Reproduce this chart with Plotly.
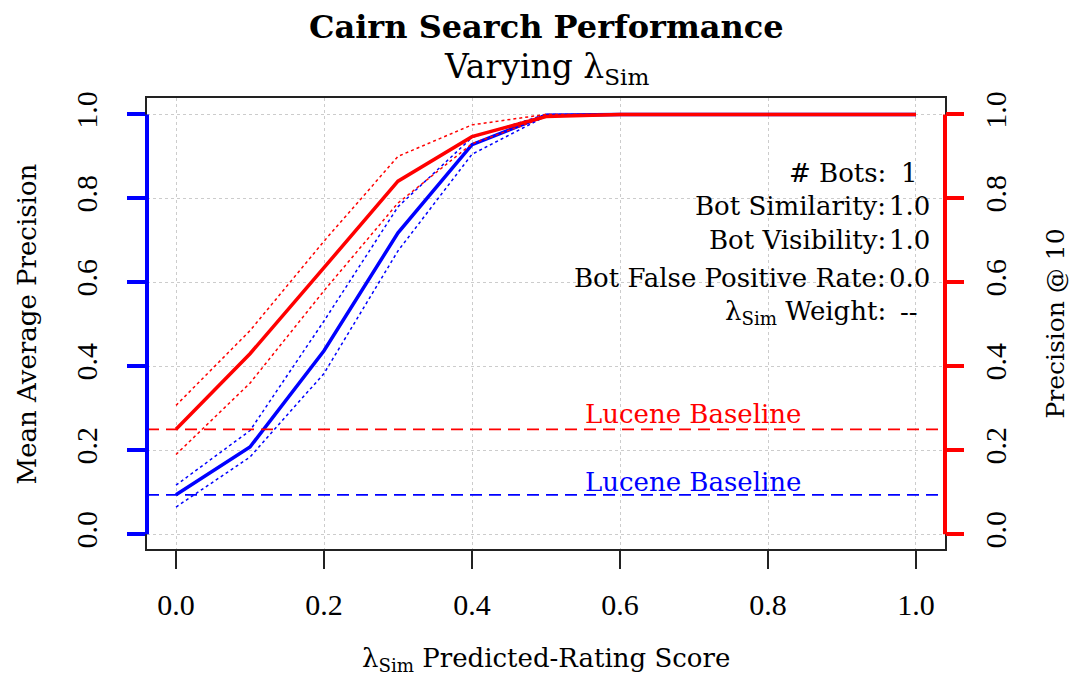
import plotly.graph_objects as go

# lambda_Sim weights on the x axis
LAMBDA_SIM = [0.0, 0.1, 0.2, 0.3, 0.4, 0.5, 0.6, 0.7, 0.8, 0.9, 1.0]

# Mean average precision (blue, left axis) with its dotted band
MAP_MEAN = [0.094, 0.208, 0.437, 0.718, 0.928, 0.998, 1.0, 1.0, 1.0, 1.0, 1.0]
MAP_UPPER = [0.117, 0.247, 0.508, 0.780, 0.945, 1.0, 1.0, 1.0, 1.0, 1.0, 1.0]
MAP_LOWER = [0.065, 0.184, 0.383, 0.675, 0.905, 0.996, 1.0, 1.0, 1.0, 1.0, 1.0]

# Precision @ 10 (red, right axis) with its dotted band
P10_MEAN = [0.250, 0.430, 0.635, 0.841, 0.947, 0.995, 1.0, 1.0, 1.0, 1.0, 1.0]
P10_UPPER = [0.307, 0.485, 0.698, 0.900, 0.975, 1.0, 1.0, 1.0, 1.0, 1.0, 1.0]
P10_LOWER = [0.190, 0.360, 0.580, 0.789, 0.930, 0.994, 1.0, 1.0, 1.0, 1.0, 1.0]

# Lucene baselines
MAP_BASELINE = 0.094
P10_BASELINE = 0.250

TICKS = [0.0, 0.2, 0.4, 0.6, 0.8, 1.0]
TICK_TEXT = ["0.0", "0.2", "0.4", "0.6", "0.8", "1.0"]

INFO_LABELS = ["# Bots:", "Bot Similarity:", "Bot Visibility:",
               "Bot False Positive Rate:", "λ<sub>Sim</sub> Weight:"]
INFO_VALUES = ["1", "1.0", "1.0", "0.0", "--"]
INFO_ROWS = [0.860, 0.782, 0.701, 0.610, 0.529]

BLUE = "#0000ff"
RED = "#ff0000"
TEXT_FONT = "DejaVu Serif"
TICK_FONT = "Liberation Serif"
XRANGE = [-0.0392, 1.0392]
YRANGE = [-0.035, 1.039]

fig = go.Figure()

band = dict(width=1.5, dash="3px,3px")
for ys in (MAP_UPPER, MAP_LOWER):
    fig.add_trace(go.Scatter(x=LAMBDA_SIM, y=ys, mode="lines",
                             line=dict(color=BLUE, **band), showlegend=False))
for ys in (P10_UPPER, P10_LOWER):
    fig.add_trace(go.Scatter(x=LAMBDA_SIM, y=ys, mode="lines", yaxis="y2",
                             line=dict(color=RED, **band), showlegend=False))
fig.add_trace(go.Scatter(x=LAMBDA_SIM, y=MAP_MEAN, mode="lines",
                         line=dict(color=BLUE, width=3.5), showlegend=False))
fig.add_trace(go.Scatter(x=LAMBDA_SIM, y=P10_MEAN, mode="lines", yaxis="y2",
                         line=dict(color=RED, width=3.5), showlegend=False))

# baselines across the whole box
fig.add_shape(type="line", xref="paper", yref="y", x0=0, x1=1,
              y0=MAP_BASELINE, y1=MAP_BASELINE,
              line=dict(color=BLUE, width=1.8, dash="12px,7px"))
fig.add_shape(type="line", xref="paper", yref="y2", x0=0, x1=1,
              y0=P10_BASELINE, y1=P10_BASELINE,
              line=dict(color=RED, width=1.8, dash="12px,7px"))

# coloured axis lines, only over 0..1
fig.add_shape(type="line", xref="paper", yref="y", x0=0, x1=0,
              y0=TICKS[0], y1=TICKS[-1], line=dict(color=BLUE, width=4))
fig.add_shape(type="line", xref="paper", yref="y2", x0=1, x1=1,
              y0=TICKS[0], y1=TICKS[-1], line=dict(color=RED, width=4))

tickfont = dict(family=TICK_FONT, size=30, color="black")
# the page body has an 8px margin on every side; keep the figure inside it
# so no scrollbars appear
fig.update_layout(
    width=1067, height=669,
    margin=dict(l=139, r=130, t=90, b=128),
    plot_bgcolor="white", paper_bgcolor="white",
    showlegend=False,
    xaxis=dict(range=XRANGE, tickvals=TICKS, ticktext=TICK_TEXT,
               ticks="outside", ticklen=18, tickwidth=2, tickcolor="#222",
               ticklabelstandoff=10, tickfont=tickfont,
               showline=True, mirror=True, linecolor="#222", linewidth=2,
               showgrid=True, gridcolor="#cccccc", griddash="dot",
               gridwidth=1.2, zeroline=False),
    yaxis=dict(range=YRANGE, tickvals=TICKS, ticktext=TICK_TEXT,
               ticks="outside", ticklen=18, tickwidth=4, tickcolor=BLUE,
               tickangle=-90, ticklabelstandoff=18, tickfont=tickfont,
               showline=True, mirror=True, linecolor="#222", linewidth=2,
               showgrid=True, gridcolor="#cccccc", griddash="dot",
               gridwidth=1.2, zeroline=False),
    yaxis2=dict(range=YRANGE, tickvals=TICKS, ticktext=TICK_TEXT,
                overlaying="y", side="right",
                ticks="outside", ticklen=18, tickwidth=4, tickcolor=RED,
                tickangle=-90, ticklabelstandoff=6, tickfont=tickfont,
                showline=False, showgrid=False, zeroline=False),
)


def label(text, x, y, size=26, color="black", angle=0, **kw):
    fig.add_annotation(text=text, x=x, y=y, textangle=angle, showarrow=False,
                       xanchor=kw.pop("xanchor", "center"), yanchor="middle",
                       font=dict(family=TEXT_FONT, size=size, color=color),
                       **kw)


# titles
label("<b>Cairn Search Performance</b>", 0.5, 1.1574, size=32,
      xref="paper", yref="paper")
label("Varying λ<sub>Sim</sub>", 0.5, 1.0665, size=33,
      xref="paper", yref="paper")
label("λ<sub>Sim</sub> Predicted-Rating Score", 0.5, -0.245,
      xref="paper", yref="paper")
label("Mean Average Precision", -0.1504, 0.5, angle=-90,
      xref="paper", yref="paper")
label("Precision @ 10", 1.138, 0.5, angle=-90, size=25,
      xref="paper", yref="paper")

# baseline labels
label("Lucene Baseline", 0.699, 0.287, color=RED, yref="y2")
label("Lucene Baseline", 0.699, 0.125, color=BLUE, yref="y")

# parameter block
for name, value, row in zip(INFO_LABELS, INFO_VALUES, INFO_ROWS):
    label(name, 0.962, row, xanchor="right")
    label(value, 0.991, row)

fig.write_html("out.html")
